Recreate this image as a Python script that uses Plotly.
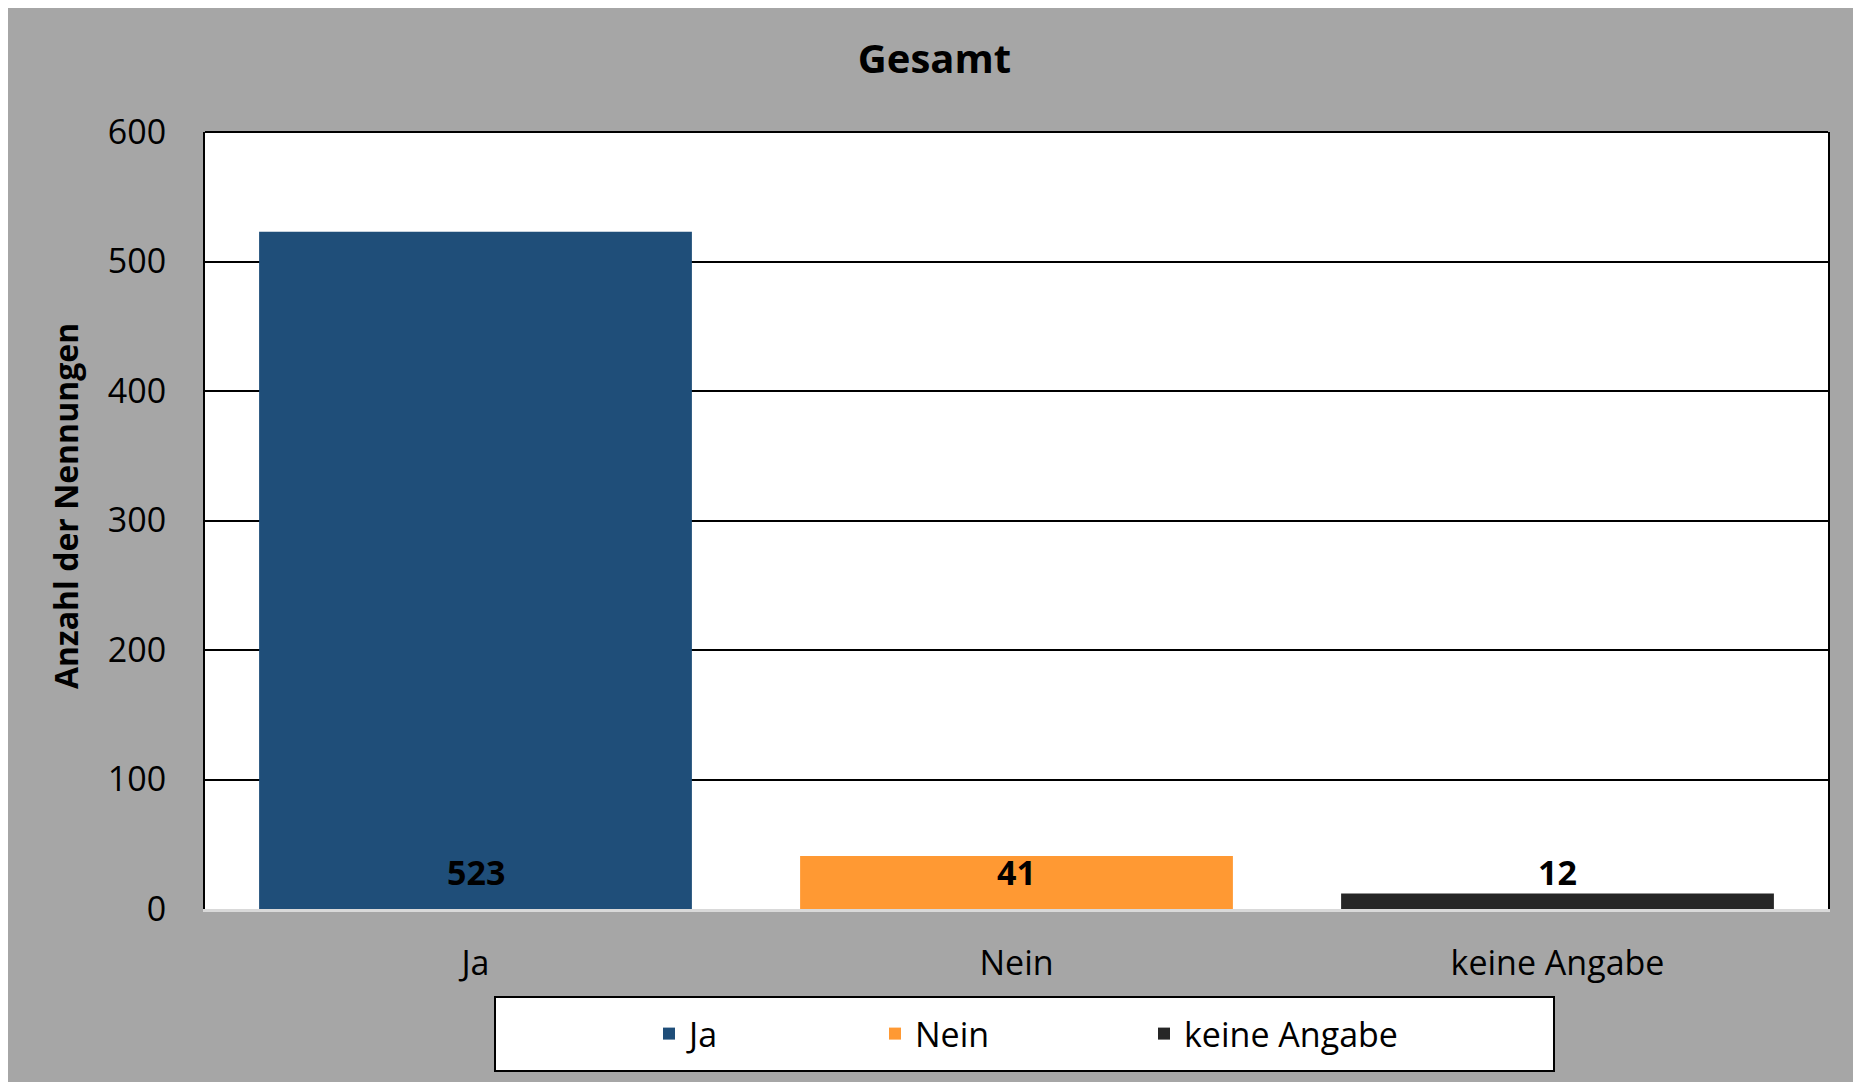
import plotly.graph_objects as go

# Daten
kategorien = ["Ja", "Nein", "keine Angabe"]
werte = [523, 41, 12]
farben = ["#1f4e79", "#ff9933", "#262626"]
y_ticks = [0, 100, 200, 300, 400, 500, 600]

FONT = "Open Sans"
BG = "#a6a6a6"

# Seite 1861x1082, Body-Rand 8px
OFF = 8
W, H = 1861 - OFF, 1082 - OFF
L, R, T, B = 205 - OFF, 33, 132 - OFF, 173
PW, PH = W - L - R, H - T - B


def px_x(x):
    # Seitenkoordinate -> Papierkoordinate
    return (x - OFF - L) / PW


def px_y(y):
    return (H - B - (y - OFF)) / PH


fig = go.Figure()
legends = ["legend", "legend2", "legend3"]
for kat, wert, farbe, lg in zip(kategorien, werte, farben, legends):
    fig.add_bar(
        x=[kat], y=[wert], name=kat, marker_color=farbe,
        marker_line_width=0, legend=lg, hoverinfo="x+y",
    )

# Wertebeschriftung am Fuß der Balken
LABEL_Y = 28.5
for kat, wert in zip(kategorien, werte):
    fig.add_annotation(
        x=kat, y=LABEL_Y, text=f"<b>{wert}</b>", showarrow=False,
        font=dict(family=FONT, size=34, color="black"), yanchor="middle",
    )

# Achsentitel
fig.add_annotation(
    xref="paper", yref="paper", x=px_x(65), y=px_y(506),
    text="<b>Anzahl der Nennungen</b>", textangle=-90, showarrow=False,
    font=dict(family=FONT, size=32, color="black"),
    xanchor="center", yanchor="middle",
)

# obere Begrenzung der Zeichenfläche
fig.add_shape(
    type="line", xref="paper", yref="paper", x0=0, x1=1, y0=1, y1=1,
    line=dict(color="black", width=2),
)

# Legendenrahmen
fig.add_shape(
    type="rect", xref="paper", yref="paper",
    x0=px_x(495), x1=px_x(1554), y0=px_y(1071), y1=px_y(997),
    fillcolor="white", line=dict(color="black", width=2), layer="below",
)

leg_common = dict(
    orientation="h", bgcolor="rgba(0,0,0,0)", borderwidth=0,
    font=dict(family=FONT, size=34, color="black"),
    xanchor="left", yanchor="middle", y=px_y(1034),
)
swatch_mitte = [669, 895, 1164]

fig.update_layout(
    width=W, height=H,
    paper_bgcolor=BG, plot_bgcolor="white",
    margin=dict(l=L, r=R, t=T, b=B),
    bargap=0.2,
    title=dict(
        text="<b>Gesamt</b>", x=0.5, xanchor="center",
        y=1 - (59 - OFF) / H, yanchor="middle",
        font=dict(family=FONT, size=40, color="black"),
    ),
    font=dict(family=FONT, size=34, color="black"),
    showlegend=True,
    legend=dict(leg_common, x=px_x(swatch_mitte[0] - 20)),
    legend2=dict(leg_common, x=px_x(swatch_mitte[1] - 20)),
    legend3=dict(leg_common, x=px_x(swatch_mitte[2] - 20)),
)

fig.update_xaxes(
    showgrid=False, showline=True, linecolor="#d9d9d9", linewidth=3,
    ticks="", ticklabelstandoff=22,
    tickfont=dict(family=FONT, size=34, color="black"),
)
fig.update_yaxes(
    range=[0, 600], tickvals=y_ticks,
    showgrid=True, gridcolor="black", gridwidth=2,
    zeroline=False, showline=True, linecolor="black", linewidth=2,
    mirror=True, ticks="", ticklabelstandoff=30,
    tickfont=dict(family=FONT, size=34, color="black"),
)

fig.write_html("out.html")
